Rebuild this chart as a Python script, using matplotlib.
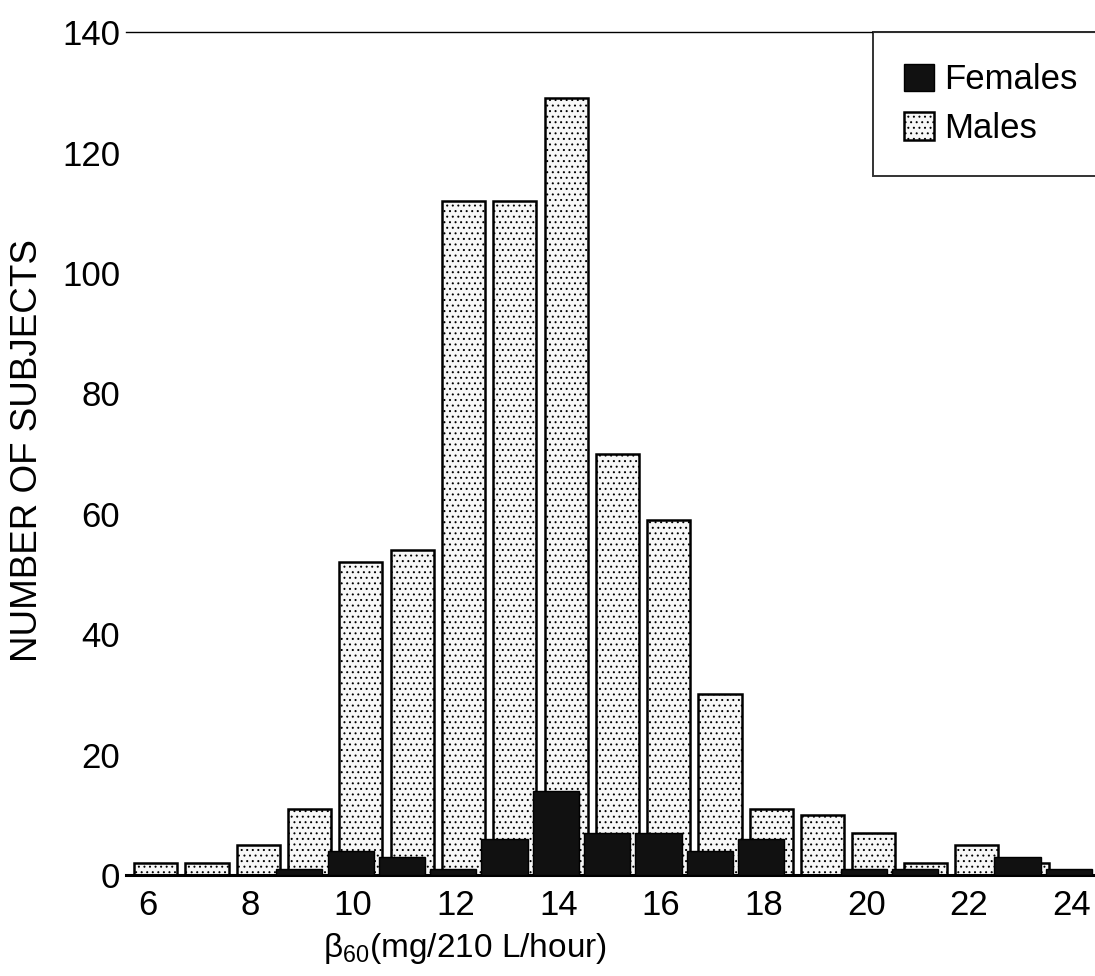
import matplotlib.pyplot as plt
import numpy as np

plt.rcParams['font.family'] = ['Liberation Sans', 'DejaVu Sans']
plt.rcParams['mathtext.fontset'] = 'custom'
plt.rcParams['mathtext.rm'] = 'Liberation Sans'
plt.rcParams['mathtext.it'] = 'Liberation Sans:italic'
plt.rcParams['hatch.linewidth'] = 0.7

# bin centres (mg/210 L/hour)
bins = [6, 7, 8, 9, 10, 11, 12, 13, 14, 15, 16, 17, 18, 19, 20, 21, 22, 23, 24]
males = [2, 2, 5, 11, 52, 54, 112, 112, 129, 70, 59, 30, 11, 10, 7, 2, 5, 2, 0]
females = [0, 0, 0, 1, 4, 3, 1, 6, 14, 7, 7, 4, 6, 0, 1, 1, 0, 3, 1]
xticks = [6, 8, 10, 12, 14, 16, 18, 20, 22, 24]
yticks = [0, 20, 40, 60, 80, 100, 120, 140]

x = np.array(bins, dtype=float)

fig = plt.figure(figsize=(10.95, 9.76), dpi=100)
ax = fig.add_axes([0.115, 0.1035, 0.885, 0.8635])

# males behind, shifted a bit right
ax.bar(x + 0.15, males, width=0.84, facecolor='#f7f7f7', edgecolor='black',
       hatch='...', linewidth=1.8, label='Males', zorder=2)
# females in front
ax.bar(x - 0.05, females, width=0.9, facecolor='#111111', edgecolor='black',
       linewidth=1.0, label='Females', zorder=3)

ax.set_xlim(5.57, 24.46)
ax.set_ylim(0, 140)
ax.set_xticks(xticks)
ax.set_yticks(yticks)
ax.tick_params(axis='both', length=0, labelsize=25)
ax.tick_params(axis='x', pad=10)
ax.tick_params(axis='y', pad=4)

for s in ['left', 'right']:
    ax.spines[s].set_visible(False)
ax.spines['bottom'].set_linewidth(2.2)
ax.spines['top'].set_linewidth(1.0)

ax.set_ylabel('NUMBER OF SUBJECTS', fontsize=26.5)
ax.yaxis.set_label_coords(-0.083, 0.504)
ax.set_xlabel(r'$\mathrm{\beta}_{60}$(mg/210 L/hour)', fontsize=24)
ax.xaxis.set_label_coords(0.35, -0.066)

handles, labels = ax.get_legend_handles_labels()
leg = ax.legend(handles[::-1], labels[::-1], loc='upper left',
                bbox_to_anchor=(0.771, 0.8, 0.26, 0.2), mode='expand',
                fontsize=25, frameon=True, fancybox=False,
                handlelength=0.85, handleheight=0.85, handletextpad=0.3,
                borderpad=0.9, labelspacing=0.45, borderaxespad=0)
leg.get_frame().set_edgecolor('black')
leg.get_frame().set_linewidth(1.4)

fig.savefig('out.png', dpi=100)
